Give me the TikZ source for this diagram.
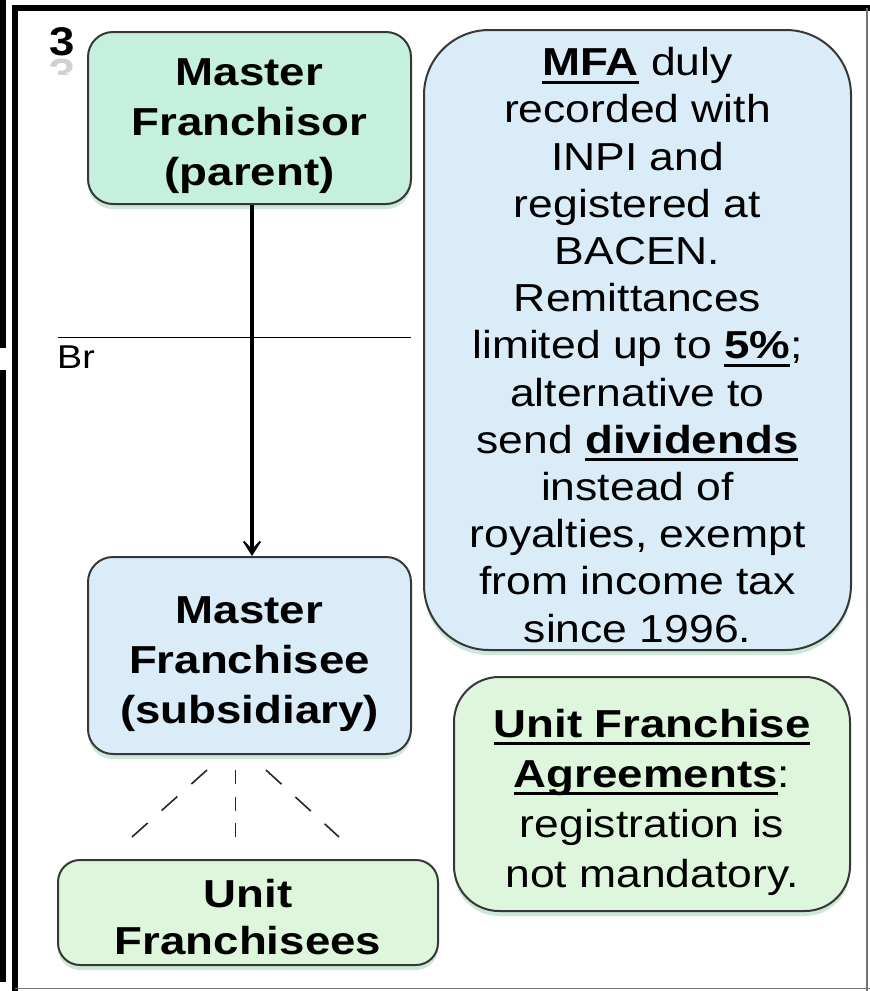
\documentclass[tikz,border=0pt]{standalone}
\usepackage{fontspec}
\setmainfont{Liberation Sans}[FakeStretch=1.14]
\newfontfamily\boldstretch{Liberation Sans Bold}[FakeStretch=1.17]
\usepackage{graphicx}
\usetikzlibrary{arrows.meta,shadows}
\definecolor{mint}{RGB}{197,240,221}
\definecolor{lblue}{RGB}{218,236,248}
\definecolor{lgreen}{RGB}{222,246,220}
\definecolor{bord}{RGB}{55,55,55}
\definecolor{glow}{RGB}{140,205,170}
\newsavebox\ulbox
\newcommand\myul[1]{\sbox\ulbox{#1}\rlap{\rule[-8pt]{\wd\ulbox}{3.2pt}}\usebox\ulbox}
\newcommand\bt[1]{{\boldstretch #1}}
\tikzset{
  box/.style={draw=bord, line width=2pt, inner sep=0pt,
    drop shadow={shadow xshift=0pt, shadow yshift=-5pt, fill=glow, opacity=0.45}},
  txt/.style={align=center, inner sep=0pt, text=black},
  bigbold/.style={txt, font=\fontsize{39}{50}\selectfont\boldstretch},
  body/.style={txt, font=\fontsize{39}{47.2}\selectfont},
  arr/.style={line width=4pt, -{Stealth[length=22pt,width=28pt,inset=15pt]}},
  dshd/.style={line width=1.6pt, black!85, dash pattern=on 21pt off 18.8pt},
  dshv/.style={line width=1.6pt, black!85, dash pattern=on 14pt off 12.5pt},
  frame/.style={line width=6pt, black},
  thinframe/.style={line width=1.5pt, black!55}
}
\begin{document}
\begin{tikzpicture}[x=1pt,y=-1pt]
\useasboundingbox (0,0) rectangle (870,991);
% frame
\draw[frame] (2.5,0) -- (2.5,348);
\draw[frame] (2.5,370) -- (2.5,982);
\draw[frame] (15,5) -- (15,991);
\draw[frame] (12,8) -- (870,8);
\draw[thinframe] (867,8) -- (867,991);
\draw[thinframe] (15,988.5) -- (870,988.5);
% number 3
\node[font=\fontsize{40}{40}\selectfont\bfseries, anchor=base] (num) at (62,55) {3};
\begin{scope}
\clip (40,57) rectangle (90,74);
\node[font=\fontsize{40}{40}\selectfont\bfseries, anchor=base, text=black!18] (numr) at (62,59) {\scalebox{1}[-1]{3}};
\end{scope}
% separator
\coordinate (sl) at (58,337.5);
\coordinate (sr) at (411,337.5);
\draw[line width=1.2pt] (sl) -- (sr);
\node[font=\fontsize{33}{33}\selectfont, anchor=north west, inner sep=0pt] (br) at (57,346) {Br};
% boxes
\node[box, fill=mint, rounded corners=25pt, minimum width=323pt, minimum height=172pt] (fr) at (249.5,118) {};
\node[bigbold] (frt) at ([yshift=-8pt]fr.center) {Master\\Franchisor\\(parent)};
\node[box, fill=lblue, rounded corners=65pt, minimum width=427pt, minimum height=620pt] (mfa) at (637.5,340) {};
\node[body] (mfat) at ([yshift=-5pt]mfa.center) {\myul{\bt{MFA}} duly\\recorded with\\INPI and\\registered at\\BACEN.\\Remittances\\limited up to \myul{\bt{5\%}};\\alternative to\\send \myul{\bt{dividends}}\\instead of\\royalties, exempt\\from income tax\\since 1996.};
\node[box, fill=lblue, rounded corners=25pt, minimum width=323pt, minimum height=197pt] (fe) at (249.5,655.5) {};
\node[bigbold] (fet) at ([yshift=-8.5pt]fe.center) {Master\\Franchisee\\(subsidiary)};
\node[box, fill=lgreen, rounded corners=45pt, minimum width=396pt, minimum height=234pt] (ufa) at (652,794) {};
\node[txt, font=\fontsize{39}{50}\selectfont] (ufat) at ([yshift=-8pt]ufa.center) {\myul{\bt{Unit Franchise}}\\\myul{\bt{Agreements}}:\\registration is\\not mandatory.};
\node[box, fill=lgreen, rounded corners=22pt, minimum width=380pt, minimum height=105pt] (uf) at (248,912.5) {};
\node[txt, font=\fontsize{39}{47}\selectfont\boldstretch] (uft) at ([yshift=-5pt]uf.center) {Unit\\Franchisees};
% arrow
\draw[arr] ([xshift=2.5pt]fr.south) -- ([xshift=2.5pt]fe.north);
% dashed fan
\coordinate (d1s) at (207,770); \coordinate (d1e) at (132,837);
\coordinate (d2s) at (235.5,770); \coordinate (d2e) at (235.5,837);
\coordinate (d3s) at (266,770); \coordinate (d3e) at (339,837);
\draw[dshd] (d1s) -- (d1e);
\draw[dshv] (d2s) -- (d2e);
\draw[dshd] (d3s) -- (d3e);
\end{tikzpicture}
\end{document}
